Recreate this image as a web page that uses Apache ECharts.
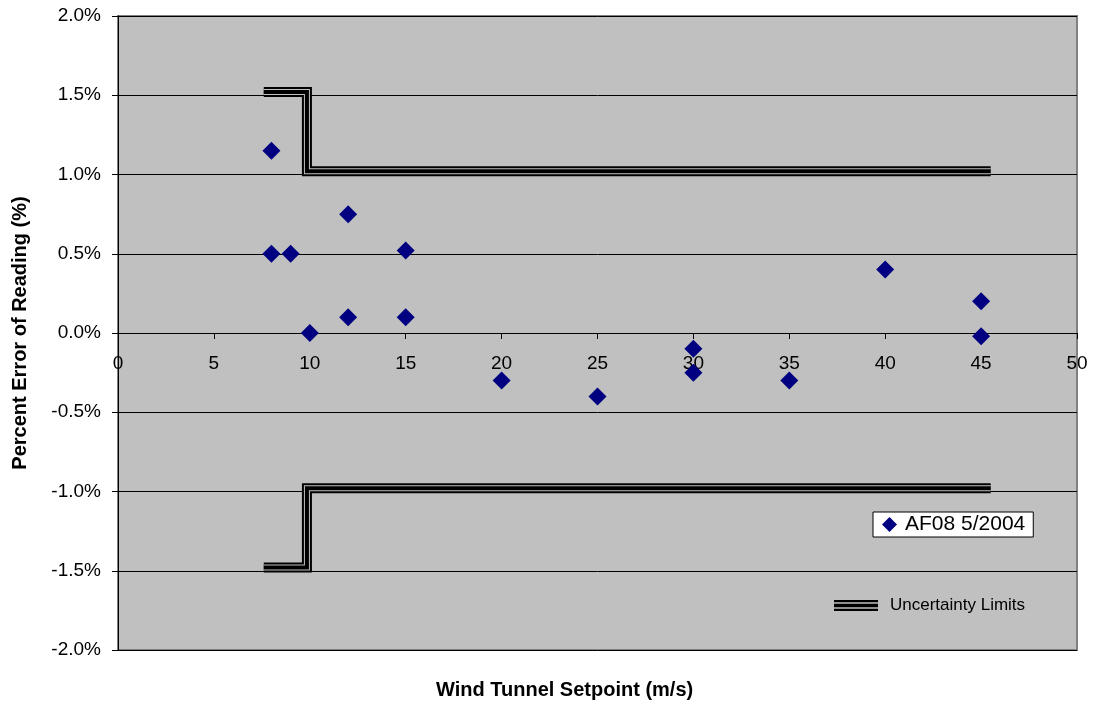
<!DOCTYPE html>
<html><head><meta charset="utf-8">
<script src="https://cdn.jsdelivr.net/npm/echarts@6/dist/echarts.min.js"></script>
<style>html,body{margin:0;padding:0;background:#fff}#c{width:1094px;height:708px}</style>
</head><body><div id="c"></div>
<script>
const setpoints = [8, 8, 9, 10, 12, 12, 15, 15, 20, 25, 30, 30, 35, 40, 45, 45];
const errors = [1.15, 0.5, 0.5, 0.0, 0.75, 0.1, 0.52, 0.1, -0.3, -0.4, -0.1, -0.25, -0.3, 0.4, 0.2, -0.02];
const upperLimitX = [7.6, 9.85, 9.85, 45.5];
const upperLimitY = [1.52, 1.52, 1.02, 1.02];
const lowerLimitX = [7.6, 9.85, 9.85, 45.5];
const lowerLimitY = [-1.48, -1.48, -0.98, -0.98];
const seriesName = 'AF08 5/2004';
const limitName = 'Uncertainty Limits';

const zip = (a, b) => a.map((v, i) => [v, b[i]]);
const font = 'Liberation Sans, Arial, sans-serif';
const chart = echarts.init(document.getElementById('c'), null, {renderer: 'canvas'});
function limitSeries(data, width, color, z, name) {
  return {
    type: 'line', name: name, data: data, symbol: 'none', silent: true, z: z,
    lineStyle: {color: color, width: width, cap: 'butt', join: 'miter'},
    animation: false
  };
}
const limits = [];
[zip(upperLimitX, upperLimitY), zip(lowerLimitX, lowerLimitY)].forEach(d => {
  limits.push(limitSeries(d, 10, '#000', 2, limitName));
  limits.push(limitSeries(d, 6, '#C0C0C0', 3, 'g'));
  limits.push(limitSeries(d, 4, '#000', 4, 'b'));
});
chart.setOption({
  animation: false,
  grid: {left: 118, right: 17, top: 16, bottom: 58, show: true, backgroundColor: '#C0C0C0',
         borderWidth: 2, borderColor: '#808080', containLabel: false, outerBoundsMode: 'none'},
  xAxis: {
    type: 'value', min: 0, max: 50, interval: 5, offset: -317,
    axisLine: {onZero: false, lineStyle: {color: '#000', width: 1}},
    axisTick: {show: true, length: 6, lineStyle: {color: '#000'}},
    axisLabel: {fontFamily: font, fontSize: 19, color: '#000', margin: 21},
    splitLine: {show: false}
  },
  yAxis: {
    type: 'value', min: -2, max: 2, interval: 0.5,
    axisLine: {show: true, lineStyle: {color: '#000', width: 1}},
    axisTick: {show: true, length: 6, lineStyle: {color: '#000'}},
    axisLabel: {fontFamily: font, fontSize: 19, color: '#000', margin: 17, formatter: v => v.toFixed(1) + '%'},
    splitLine: {show: true, lineStyle: {color: '#000', width: 1}}
  },
  graphic: [
    {type: 'text', x: 436, y: 680, style: {text: 'Wind Tunnel Setpoint (m/s)', font: 'bold 20px ' + font, fill: '#000'}, silent: true},
    {type: 'text', x: 10, y: 333, rotation: Math.PI / 2, style: {text: 'Percent Error of Reading (%)', font: 'bold 20px ' + font, fill: '#000', align: 'center', verticalAlign: 'top'}, silent: true, originX: 0, originY: 0}
  ],
  legend: [{
    data: [{name: seriesName, icon: 'diamond'}],
    left: 873, top: 512, orient: 'vertical',
    backgroundColor: '#fff', borderColor: '#000', borderWidth: 1,
    padding: [2, 8, 2, 9], itemWidth: 15, itemHeight: 15, itemGap: 4,
    textStyle: {fontFamily: font, fontSize: 21, color: '#000', padding: [0, 0, 0, 3]}
  }, {
    data: [{name: limitName, icon: 'path://M0,0H40V2H0Z M0,3.5H40V6.5H0Z M0,8H40V10H0Z'}],
    left: 829, top: 592, itemWidth: 44, itemHeight: 11, itemGap: 12,
    textStyle: {fontFamily: font, fontSize: 17, color: '#000', padding: [0, 0, 3, 7]},
    itemStyle: {color: '#000'}
  }],
  series: [
    ...limits,
    {
      type: 'scatter', name: seriesName, data: zip(setpoints, errors),
      symbol: 'diamond', symbolSize: 18, z: 10,
      itemStyle: {color: '#000080', opacity: 1}
    }
  ]
});
</script></body></html>
